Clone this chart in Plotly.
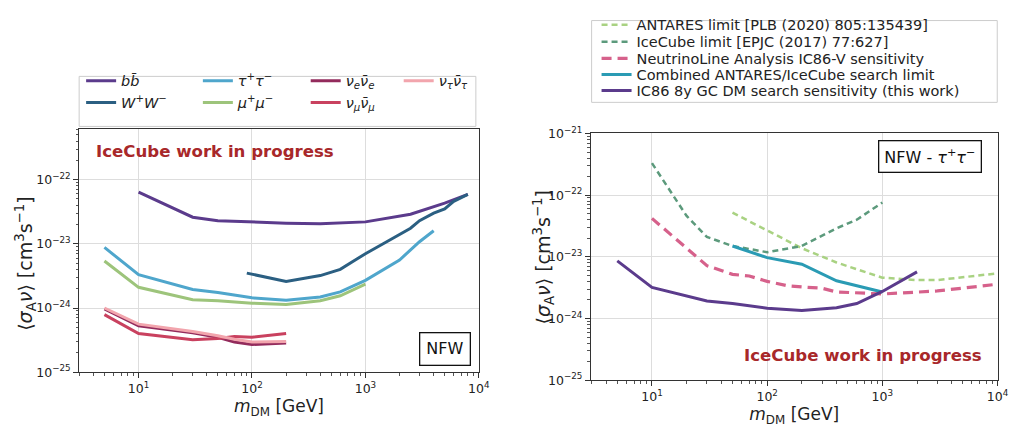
import plotly.graph_objects as go

W, H = 1030, 427

# ---------------- data: left panel (NFW, all channels) ----------------
mass_bb = [10, 30, 50, 90, 100, 200, 400, 1000, 2500, 5000, 8000]
sv_bb = [6.4e-23, 2.6e-23, 2.3e-23, 2.2e-23, 2.2e-23, 2.1e-23, 2.05e-23, 2.2e-23, 2.9e-23, 4.3e-23, 5.9e-23]

mass_ww = [90, 200, 400, 600, 800, 1000, 1500, 2000, 2500, 3000, 4000, 5000, 6000, 8000]
sv_ww = [3.5e-24, 2.6e-24, 3.2e-24, 4.0e-24, 5.5e-24, 7.0e-24, 1.05e-23, 1.4e-23, 1.75e-23, 2.3e-23, 3.0e-23, 3.5e-23, 4.6e-23, 5.9e-23]

mass_tt = [5, 10, 30, 50, 100, 200, 400, 600, 1000, 2000, 3000, 4000]
sv_tt = [8.8e-24, 3.3e-24, 1.94e-24, 1.75e-24, 1.44e-24, 1.32e-24, 1.48e-24, 1.78e-24, 2.7e-24, 5.6e-24, 1.08e-23, 1.6e-23]

mass_mm = [5, 10, 30, 50, 100, 200, 400, 600, 1000]
sv_mm = [5.4e-24, 2.1e-24, 1.35e-24, 1.3e-24, 1.19e-24, 1.13e-24, 1.3e-24, 1.55e-24, 2.35e-24]

mass_nu = [5, 10, 30, 50, 70, 100, 200]
sv_nue = [9.7e-25, 5.3e-25, 4.1e-25, 3.5e-25, 2.95e-25, 2.7e-25, 2.85e-25]
sv_num = [7.9e-25, 4.0e-25, 3.2e-25, 3.35e-25, 3.6e-25, 3.5e-25, 4.0e-25]
sv_nut = [1.0e-24, 5.6e-25, 4.3e-25, 3.7e-25, 3.25e-25, 2.95e-25, 3.0e-25]

# ---------------- data: right panel (NFW - tau tau) ----------------
mass_antares = [50, 100, 200, 400, 1000, 2000, 3000, 10000]
sv_antares = [5.2e-23, 2.7e-23, 1.38e-23, 8.1e-24, 4.6e-24, 4.2e-24, 4.2e-24, 5.4e-24]

mass_icecube = [10, 20, 30, 50, 100, 200, 400, 600, 1000]
sv_icecube = [3.3e-22, 4.6e-23, 2.1e-23, 1.5e-23, 1.19e-23, 1.5e-23, 2.9e-23, 4.0e-23, 7.6e-23]

mass_nl = [10, 20, 30, 50, 70, 100, 150, 200, 300, 400, 1000, 3000, 10000]
sv_nl = [4.2e-23, 1.38e-23, 7.2e-24, 5.2e-24, 4.9e-24, 4.0e-24, 3.4e-24, 3.25e-24, 3.1e-24, 2.7e-24, 2.5e-24, 2.8e-24, 3.6e-24]

mass_comb = [50, 100, 200, 400, 1000]
sv_comb = [1.5e-23, 9.7e-24, 7.6e-24, 4.1e-24, 2.7e-24]

mass_ic86 = [5, 10, 30, 50, 100, 200, 400, 600, 1000, 2000]
sv_ic86 = [8.6e-24, 3.2e-24, 1.93e-24, 1.75e-24, 1.47e-24, 1.35e-24, 1.5e-24, 1.75e-24, 2.75e-24, 5.7e-24]

# ---------------- tick labels ----------------
x_tickvals = [10, 100, 1000, 10000]
x_ticktext = ["10<sup>1</sup>", "10<sup>2</sup>", "10<sup>3</sup>", "10<sup>4</sup>"]
y_tickvals = [1e-25, 1e-24, 1e-23, 1e-22, 1e-21]
y_ticktext = ["10<sup>−25</sup>", "10<sup>−24</sup>", "10<sup>−23</sup>", "10<sup>−22</sup>", "10<sup>−21</sup>"]

FONT = "DejaVu Sans"
TXT = "#222222"
LEGFONT = 14.5


def px(x):
    return x / W


def py(y):
    return 1 - y / H


fig = go.Figure()

left = [
    ("<i>b</i><i>b̄</i>", mass_bb, sv_bb, "#5b3b8c", "legend"),
    ("<i>W</i><sup>+</sup><i>W</i><sup>−</sup>", mass_ww, sv_ww, "#2b5f82", "legend"),
    ("<i>τ</i><sup>+</sup><i>τ</i><sup>−</sup>", mass_tt, sv_tt, "#4fa6cc", "legend2"),
    ("<i>μ</i><sup>+</sup><i>μ</i><sup>−</sup>", mass_mm, sv_mm, "#9dc47b", "legend2"),
    ("<i>ν<sub>e</sub>ν̄<sub>e</sub></i>", mass_nu, sv_nue, "#932b5c", "legend3"),
    ("<i>ν<sub>μ</sub>ν̄<sub>μ</sub></i>", mass_nu, sv_num, "#c9415f", "legend3"),
    ("<i>ν<sub>τ</sub>ν̄<sub>τ</sub></i>", mass_nu, sv_nut, "#f2a5ad", "legend4"),
]
for name, x, y, c, lg in left:
    fig.add_trace(go.Scatter(x=x, y=y, mode="lines", name=name,
                             line=dict(color=c, width=3),
                             xaxis="x", yaxis="y", legend=lg))

right = [
    ("ANTARES limit [PLB (2020) 805:135439]", mass_antares, sv_antares, "#a9d282", "6px,4px", 2.5, "legend5"),
    ("IceCube limit [EPJC (2017) 77:627]", mass_icecube, sv_icecube, "#5c9a7c", "6px,4px", 2.5, "legend6"),
    ("NeutrinoLine Analysis IC86-V sensitivity", mass_nl, sv_nl, "#d6618b", "10px,6px", 3.2, "legend7"),
    ("Combined ANTARES/IceCube search limit", mass_comb, sv_comb, "#2a9bb4", "solid", 3, "legend8"),
    ("IC86 8y GC DM search sensitivity (this work)", mass_ic86, sv_ic86, "#5b3b8c", "solid", 3, "legend9"),
]
for name, x, y, c, d, w, lg in right:
    fig.add_trace(go.Scatter(x=x, y=y, mode="lines", name=name,
                             line=dict(color=c, width=w, dash=d),
                             xaxis="x2", yaxis="y2", legend=lg))

minor_vals = [m * 10 ** e for e in range(-26, 5) for m in range(2, 10)]

common_axis = dict(
    type="log", showline=True, mirror=True, linecolor="#333333", linewidth=1,
    ticks="outside", ticklen=5, tickwidth=1, tickcolor="#333333",
    showgrid=True, gridcolor="#dddddd", gridwidth=1, zeroline=False,
    tickmode="array",
    tickfont=dict(family=FONT, size=12.5, color=TXT),
    minor=dict(ticks="outside", ticklen=2.5, tickcolor="#555555", showgrid=False,
               tickmode="array", tickvals=minor_vals),
)
xax = dict(common_axis, tickvals=x_tickvals, ticktext=x_ticktext)
yax = dict(common_axis, tickvals=y_tickvals, ticktext=y_ticktext)

ytitle = "⟨<i>σ</i><sub>A</sub><i>ν</i>⟩ [cm<sup>3</sup>s<sup>−1</sup>]"
xtitle = "<i>m</i><sub>DM</sub> [GeV]"

fig.update_layout(
    width=W, height=H,
    margin=dict(l=0, r=0, t=0, b=0),
    paper_bgcolor="white", plot_bgcolor="white",
    font=dict(family=FONT, size=13, color=TXT),
    xaxis=dict(xax, domain=[px(80), px(484)], range=[0.476, 4.0], anchor="y",
               title=dict(text=xtitle, font=dict(size=17), standoff=2)),
    yaxis=dict(yax, domain=[py(377.3), py(125)], range=[-25, -21.215], anchor="x"),
    xaxis2=dict(xax, domain=[px(597.3), px(1008.3)], range=[0.47, 4.0], anchor="y2",
                title=dict(text=xtitle, font=dict(size=17), standoff=2)),
    yaxis2=dict(yax, domain=[py(385.7), py(129.3)], range=[-25, -21], anchor="x2"),
)

leg_base = dict(bgcolor="rgba(0,0,0,0)", borderwidth=0, orientation="v",
                font=dict(family=FONT, size=LEGFONT, color=TXT), xanchor="left", yanchor="top",
                tracegroupgap=0)
for lg, xpx in [("legend", 82), ("legend2", 200), ("legend3", 309), ("legend4", 403)]:
    fig.update_layout({lg: dict(leg_base, x=px(xpx), y=py(58))})
for i, ypx in enumerate([23.3, 41.0, 58.3, 75.0, 91.7]):
    fig.update_layout({"legend%d" % (i + 5): dict(leg_base, x=px(603), y=py(ypx - 23.5))})

fig.add_shape(type="rect", xref="paper", yref="paper", x0=px(80), x1=px(481), y0=py(122), y1=py(70),
              line=dict(color="#cccccc", width=1), layer="below")
fig.add_shape(type="rect", xref="paper", yref="paper", x0=px(598), x1=px(1008), y0=py(97), y1=py(12),
              line=dict(color="#cccccc", width=1), layer="below")

# y-axis titles
for xc, yc in [(25, 265), (549, 258)]:
    fig.add_annotation(text=ytitle, xref="paper", yref="paper", x=px(xc), y=py(yc),
                       xanchor="center", yanchor="middle", textangle=-90, showarrow=False,
                       font=dict(family=FONT, size=19, color=TXT))

wip_font = dict(family=FONT, size=16.6, color="#a8282a")
fig.add_annotation(text="<b>IceCube work in progress</b>", xref="paper", yref="paper",
                   x=px(217), y=py(148), xanchor="center", yanchor="middle",
                   showarrow=False, font=wip_font)
fig.add_annotation(text="<b>IceCube work in progress</b>", xref="paper", yref="paper",
                   x=px(872), y=py(360), xanchor="center", yanchor="middle",
                   showarrow=False, font=wip_font)
fig.add_annotation(text="NFW", xref="paper", yref="paper", x=px(450), y=py(353),
                   xanchor="center", yanchor="middle", showarrow=False,
                   font=dict(family=FONT, size=16, color="#111111"),
                   bordercolor="#111111", borderwidth=1.3, borderpad=6, bgcolor="white")
fig.add_annotation(text="NFW - <i>τ</i><sup>+</sup><i>τ</i><sup>−</sup>", xref="paper", yref="paper",
                   x=px(940), y=py(153.5), xanchor="center", yanchor="middle", showarrow=False,
                   font=dict(family=FONT, size=16, color="#111111"),
                   bordercolor="#111111", borderwidth=1.3, borderpad=5, bgcolor="white")

fig.write_html("out.html", config={"displayModeBar": False},
               post_script="document.body.style.margin='0px';")
